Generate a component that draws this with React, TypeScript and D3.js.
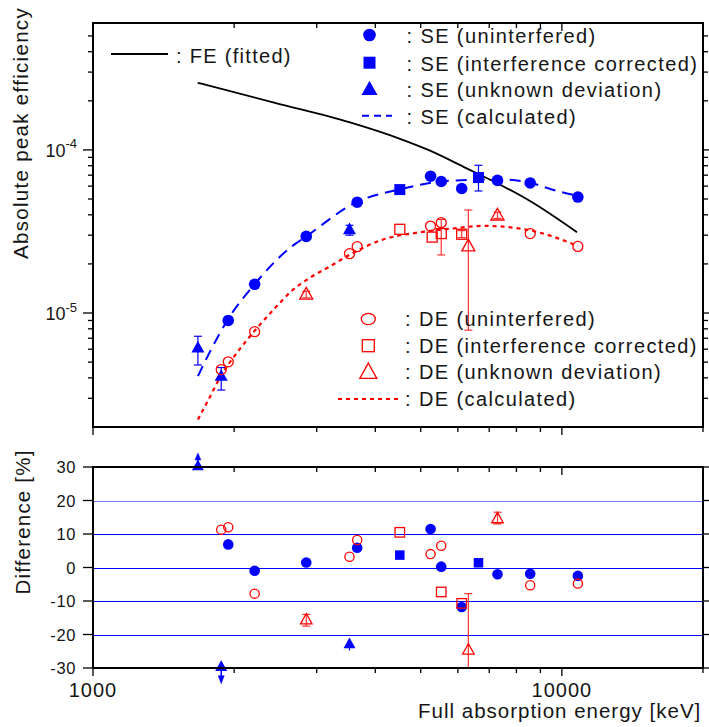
import React from 'react';
import * as d3 from 'd3';

// ---------- data ----------
const xMajorTicks = [1000, 10000];
const xMinorTicks = [2000, 3000, 4000, 5000, 6000, 7000, 8000, 9000, 20000];
const xTickLabels = ['1000', '10000'];

const yTopMajorTicks = [1e-5, 1e-4];
const yTopExponents = ['-5', '-4'];
const yTopMinorTicks = [3e-6, 4e-6, 5e-6, 6e-6, 7e-6, 8e-6, 9e-6, 2e-5, 3e-5, 4e-5, 5e-5, 6e-5, 7e-5, 8e-5, 9e-5, 2e-4, 3e-4, 4e-4, 5e-4];

const yBotTicks = [-30, -20, -10, 0, 10, 20, 30];
const yBotTickLabels = ['-30', '-20', '-10', '0', '10', '20', '30'];
const gridLines = [-20, -10, 0, 10, 20];

// FE (fitted)
const feFitted = [
  { e: 1672, v: 2.58e-4 }, { e: 2444, v: 1.945e-4 }, { e: 3533, v: 1.474e-4 },
  { e: 4516, v: 1.17e-4 }, { e: 5190, v: 1.0e-4 }, { e: 6266, v: 7.71e-5 },
  { e: 7262, v: 6.27e-5 }, { e: 8551, v: 4.86e-5 }, { e: 10770, v: 3.13e-5 },
];
// SE (calculated)
const seCalc = [
  { e: 1674, v: 4.1e-6 }, { e: 1764, v: 5.57e-6 }, { e: 1940, v: 9.14e-6 },
  { e: 2211, v: 1.5e-5 }, { e: 2636, v: 2.52e-5 }, { e: 2850, v: 2.95e-5 },
  { e: 3647, v: 4.78e-5 }, { e: 4527, v: 5.74e-5 }, { e: 5695, v: 6.45e-5 },
  { e: 7290, v: 6.6e-5 }, { e: 8592, v: 6.27e-5 }, { e: 9477, v: 5.74e-5 },
  { e: 10818, v: 5.22e-5 },
];
// DE (calculated)
const deCalc = [
  { e: 1674, v: 2.22e-6 }, { e: 1764, v: 2.95e-6 }, { e: 1882, v: 4.2e-6 },
  { e: 2027, v: 5.7e-6 }, { e: 2210, v: 7.75e-6 }, { e: 2428, v: 1.05e-5 },
  { e: 2679, v: 1.4e-5 }, { e: 2907, v: 1.65e-5 }, { e: 3210, v: 1.94e-5 },
  { e: 3541, v: 2.29e-5 }, { e: 4170, v: 2.83e-5 }, { e: 4920, v: 3.11e-5 },
  { e: 5800, v: 3.29e-5 }, { e: 6830, v: 3.42e-5 }, { e: 8328, v: 3.26e-5 },
  { e: 9477, v: 2.97e-5 }, { e: 10818, v: 2.57e-5 },
];

const seUninterfered = [
  { e: 1943, v: 9.0e-6 }, { e: 2212, v: 1.5e-5 }, { e: 2850, v: 2.95e-5 },
  { e: 3660, v: 4.78e-5 }, { e: 5248, v: 6.9e-5 }, { e: 5530, v: 6.4e-5 },
  { e: 6115, v: 5.8e-5 }, { e: 7290, v: 6.5e-5 }, { e: 8560, v: 6.27e-5 },
  { e: 10818, v: 5.14e-5 },
];
const seInterfCorrected = [
  { e: 4512, v: 5.71e-5 },
  { e: 6640, v: 6.77e-5, lo: 5.6e-5, hi: 8.05e-5 },
];
const seUnknownDev = [
  { e: 1674, v: 6.12e-6, lo: 4.8e-6, hi: 7.2e-6 },
  { e: 1877, v: 4.1e-6, lo: 3.37e-6, hi: 4.63e-6 },
  { e: 3524, v: 3.25e-5, lo: 3.0e-5, hi: 3.45e-5 },
];
const deUninterfered = [
  { e: 1877, v: 4.5e-6 }, { e: 1943, v: 5.02e-6 }, { e: 2212, v: 7.68e-6 },
  { e: 3524, v: 2.31e-5 }, { e: 3660, v: 2.55e-5 }, { e: 5248, v: 3.41e-5 },
  { e: 5530, v: 3.58e-5 }, { e: 8560, v: 3.07e-5 }, { e: 10818, v: 2.56e-5 },
];
const deInterfCorrected = [
  { e: 4512, v: 3.26e-5 }, { e: 5290, v: 2.92e-5 },
  { e: 5530, v: 3.07e-5, lo: 2.27e-5, hi: 3.75e-5 },
  { e: 6115, v: 3.04e-5, lo: 2.9e-5, hi: 3.2e-5 },
];
const deUnknownDev = [
  { e: 2850, v: 1.3e-5, lo: 1.24e-5, hi: 1.36e-5 },
  { e: 6318, v: 2.57e-5, lo: 7.85e-6, hi: 4.28e-5 },
  { e: 7290, v: 3.97e-5, lo: 3.8e-5, hi: 4.15e-5 },
];

// Differences [%]
const seUninterferedDiff = [
  { e: 1943, d: 6.9 }, { e: 2212, d: -0.95 }, { e: 2850, d: 1.5 }, { e: 3660, d: 5.9 },
  { e: 5248, d: 11.5 }, { e: 5530, d: 0.25 }, { e: 6115, d: -11.8 }, { e: 7290, d: -2.0 },
  { e: 8560, d: -1.9 }, { e: 10818, d: -2.5 },
];
const seInterfDiff = [{ e: 4512, d: 3.7 }, { e: 6640, d: 1.4 }];
const seUnknownDiff = [
  { e: 1674, d: 30.3, arrow: 'up' },
  { e: 1877, d: -29.6, arrow: 'down' },
  { e: 3524, d: -22.8, lo: -24.8, hi: -21.5 },
];
const deUninterferedDiff = [
  { e: 1877, d: 11.3 }, { e: 1943, d: 12.0 }, { e: 2212, d: -7.8 }, { e: 3524, d: 3.2 },
  { e: 3660, d: 8.2 }, { e: 5248, d: 4.0 }, { e: 5530, d: 6.5 }, { e: 8560, d: -5.3 },
  { e: 10818, d: -4.8 },
];
const deInterfDiff = [{ e: 4512, d: 10.5 }, { e: 5530, d: -7.3 }, { e: 6115, d: -10.7 }];
const deUnknownDiff = [
  { e: 2850, d: -15.6, lo: -17.5, hi: -14.0 },
  { e: 6318, d: -24.6, lo: -40, hi: -7.8 },
  { e: 7290, d: 14.6, lo: 13.0, hi: 16.5 },
];

const seLegend = [': SE (uninterfered)', ': SE (interference corrected)', ': SE (unknown deviation)', ': SE (calculated)'];
const deLegend = [': DE (uninterfered)', ': DE (interference corrected)', ': DE (unknown deviation)', ': DE (calculated)'];
const feLegend = ': FE (fitted)';

// ---------- layout ----------
const W = 709, H = 727;
const PX0 = 93, PX1 = 703;
const TY0 = 23, TY1 = 427;
const BY0 = 467, BY1 = 668;
const BLUE = '#0000ff';
const RED = '#ff0000';
const TXT = '#151515';
const FONT = "'Liberation Sans', Arial, Helvetica, sans-serif";

const x = d3.scaleLog().domain([1000, 20000]).range([PX0, PX1]);
const yT = d3.scaleLog().domain([2e-6, 6e-4]).range([TY1, TY0]);
const yB = d3.scaleLinear().domain([-30, 30]).range([BY1, BY0]);

type MType = 'cf' | 'co' | 'sf' | 'so' | 'tf' | 'to';

function Marker({ t, cx, cy, s, color }: { t: MType; cx: number; cy: number; s: number; color: string }) {
  const sw = 1.3;
  switch (t) {
    case 'cf': return <circle cx={cx} cy={cy} r={s} fill={color} />;
    case 'co': return <circle cx={cx} cy={cy} r={s} fill="none" stroke={color} strokeWidth={sw} />;
    case 'sf': return <rect x={cx - s / 2} y={cy - s / 2} width={s} height={s} fill={color} />;
    case 'so': return <rect x={cx - s / 2} y={cy - s / 2} width={s} height={s} fill="none" stroke={color} strokeWidth={sw} />;
    case 'tf': {
      const h = s * 0.9;
      return <polygon points={`${cx},${cy - h * 0.6} ${cx - s / 2},${cy + h * 0.4} ${cx + s / 2},${cy + h * 0.4}`} fill={color} />;
    }
    case 'to': {
      const h = s * 0.9;
      return <polygon points={`${cx},${cy - h * 0.6} ${cx - s / 2},${cy + h * 0.4} ${cx + s / 2},${cy + h * 0.4}`} fill="none" stroke={color} strokeWidth={sw} />;
    }
  }
  return null;
}

function ErrBar({ cx, y1, y2, color, capTop = true, capBottom = true }: any) {
  const c = 4;
  return (
    <g stroke={color} strokeWidth={1.2}>
      <line x1={cx} x2={cx} y1={y1} y2={y2} />
      {capTop && <line x1={cx - c} x2={cx + c} y1={y1} y2={y1} />}
      {capBottom && <line x1={cx - c} x2={cx + c} y1={y2} y2={y2} />}
    </g>
  );
}

export default function App() {
  const lineT = d3.line<any>().x((d) => x(d.e)).y((d) => yT(d.v)).curve(d3.curveMonotoneX);

  const topTicks: JSX.Element[] = [];
  yTopMajorTicks.forEach((v, i) => {
    const yy = yT(v);
    topTicks.push(<line key={'tl' + i} x1={PX0 - 10} x2={PX0} y1={yy} y2={yy} />);
    topTicks.push(<line key={'tr' + i} x1={PX1} x2={PX1 + 10} y1={yy} y2={yy} />);
  });
  yTopMinorTicks.forEach((v, i) => {
    const yy = yT(v);
    topTicks.push(<line key={'tml' + i} x1={PX0 - 5} x2={PX0} y1={yy} y2={yy} />);
    topTicks.push(<line key={'tmr' + i} x1={PX1} x2={PX1 + 5} y1={yy} y2={yy} />);
  });
  const xTicks: JSX.Element[] = [];
  xMajorTicks.forEach((v, i) => {
    const xx = x(v);
    xTicks.push(<line key={'xa' + i} x1={xx} x2={xx} y1={TY0} y2={TY0 + 8} />);
    xTicks.push(<line key={'xb' + i} x1={xx} x2={xx} y1={TY1} y2={TY1 + 8} />);
    xTicks.push(<line key={'xc' + i} x1={xx} x2={xx} y1={BY0} y2={BY0 + 8} />);
    xTicks.push(<line key={'xd' + i} x1={xx} x2={xx} y1={BY1} y2={BY1 + 8} />);
  });
  xMinorTicks.forEach((v, i) => {
    const xx = x(v);
    xTicks.push(<line key={'xma' + i} x1={xx} x2={xx} y1={TY0} y2={TY0 + 5} />);
    xTicks.push(<line key={'xmb' + i} x1={xx} x2={xx} y1={TY1} y2={TY1 + 5} />);
    xTicks.push(<line key={'xmc' + i} x1={xx} x2={xx} y1={BY0} y2={BY0 + 5} />);
    xTicks.push(<line key={'xmd' + i} x1={xx} x2={xx} y1={BY1} y2={BY1 + 5} />);
  });
  const botTicks: JSX.Element[] = [];
  yBotTicks.forEach((v, i) => {
    const yy = yB(v);
    botTicks.push(<line key={'bl' + i} x1={PX0 - 10} x2={PX0} y1={yy} y2={yy} />);
    botTicks.push(<line key={'br' + i} x1={PX1} x2={PX1 + 6} y1={yy} y2={yy} />);
  });

  const txt = { fontFamily: FONT, fill: TXT };

  return (
    <svg width={W} height={H} style={{ position: 'absolute', left: 0, top: 0, background: '#fff' }}>
      <defs>
        <clipPath id="clipTop"><rect x={PX0} y={TY0} width={PX1 - PX0} height={TY1 - TY0} /></clipPath>
        <clipPath id="clipBot"><rect x={PX0} y={BY0} width={PX1 - PX0} height={BY1 - BY0} /></clipPath>
      </defs>
      <rect x={0} y={0} width={W} height={H} fill="#fff" />

      {/* grid lines bottom */}
      {gridLines.map((g, i) => {
        const gy = Math.round(yB(g)) + 0.5;
        return <line key={'g' + i} x1={PX0} x2={PX1} y1={gy} y2={gy} stroke={g === 20 ? '#7373ff' : BLUE} strokeWidth={1.2} />;
      })}

      {/* ---------- top panel ---------- */}
      <g clipPath="url(#clipTop)">
        <path d={lineT(feFitted) || ''} fill="none" stroke="#000" strokeWidth={1.8} />
        <path d={lineT(seCalc) || ''} fill="none" stroke={BLUE} strokeWidth={2} strokeDasharray="11,7" />
        <path d={lineT(deCalc) || ''} fill="none" stroke={RED} strokeWidth={2.2} strokeDasharray="4,4" />
      </g>
      {seInterfCorrected.filter((d) => d.hi).map((d, i) => (
        <ErrBar key={'esi' + i} cx={x(d.e)} y1={yT(d.hi!)} y2={yT(d.lo!)} color={BLUE} />
      ))}
      {seUnknownDev.map((d, i) => (
        <ErrBar key={'esu' + i} cx={x(d.e)} y1={yT(d.hi)} y2={yT(d.lo)} color={BLUE} />
      ))}
      {seUninterfered.map((d, i) => <Marker key={'su' + i} t="cf" cx={x(d.e)} cy={yT(d.v)} s={5.8} color={BLUE} />)}
      {seInterfCorrected.map((d, i) => <Marker key={'si' + i} t="sf" cx={x(d.e)} cy={yT(d.v)} s={11} color={BLUE} />)}
      {seUnknownDev.map((d, i) => <Marker key={'sd' + i} t="tf" cx={x(d.e)} cy={yT(d.v)} s={13} color={BLUE} />)}

      {deInterfCorrected.filter((d) => d.hi).map((d, i) => (
        <ErrBar key={'edi' + i} cx={x(d.e)} y1={yT(d.hi!)} y2={yT(d.lo!)} color="#ff3333" />
      ))}
      {deUnknownDev.map((d, i) => (
        <ErrBar key={'edu' + i} cx={x(d.e)} y1={yT(d.hi)} y2={yT(d.lo)} color="#ff3333" />
      ))}
      {deUninterfered.map((d, i) => <Marker key={'du' + i} t="co" cx={x(d.e)} cy={yT(d.v)} s={5} color={RED} />)}
      {deInterfCorrected.map((d, i) => <Marker key={'di' + i} t="so" cx={x(d.e)} cy={yT(d.v)} s={10} color={RED} />)}
      {deUnknownDev.map((d, i) => <Marker key={'dd' + i} t="to" cx={x(d.e)} cy={yT(d.v)} s={13} color={RED} />)}

      {/* ---------- bottom panel ---------- */}
      <g clipPath="url(#clipBot)">
        {deUnknownDiff.map((d, i) => (
          <ErrBar key={'bedu' + i} cx={x(d.e)} y1={yB(d.hi)} y2={yB(d.lo)} color="#ff3333" capBottom={d.lo > -30} />
        ))}
        {seUnknownDiff.filter((d) => d.lo !== undefined).map((d, i) => (
          <ErrBar key={'besu' + i} cx={x(d.e)} y1={yB(d.hi!)} y2={yB(d.lo!)} color={BLUE} capTop={false} capBottom={false} />
        ))}
      </g>
      {seUninterferedDiff.map((d, i) => <Marker key={'bsu' + i} t="cf" cx={x(d.e)} cy={yB(d.d)} s={5.3} color={BLUE} />)}
      {seInterfDiff.map((d, i) => <Marker key={'bsi' + i} t="sf" cx={x(d.e)} cy={yB(d.d)} s={9.5} color={BLUE} />)}
      {seUnknownDiff.map((d, i) => {
        const cx = x(d.e), cy = yB(d.d);
        return (
          <g key={'bsd' + i}>
            {d.arrow === 'up' && (
              <g fill={BLUE} stroke={BLUE} strokeWidth={1.5}>
                <line x1={cx} x2={cx} y1={cy} y2={cy - 10} />
                <polygon points={`${cx},${cy - 13} ${cx - 3},${cy - 6} ${cx + 3},${cy - 6}`} strokeWidth={0.5} />
              </g>
            )}
            {d.arrow === 'down' && (
              <g fill={BLUE} stroke={BLUE} strokeWidth={1.5}>
                <line x1={cx} x2={cx} y1={cy} y2={cy + 14} />
                <polygon points={`${cx},${cy + 17} ${cx - 3},${cy + 9} ${cx + 3},${cy + 9}`} strokeWidth={0.5} />
              </g>
            )}
            <Marker t="tf" cx={cx} cy={cy} s={12} color={BLUE} />
          </g>
        );
      })}
      {deUninterferedDiff.map((d, i) => <Marker key={'bdu' + i} t="co" cx={x(d.e)} cy={yB(d.d)} s={4.6} color={RED} />)}
      {deInterfDiff.map((d, i) => <Marker key={'bdi' + i} t="so" cx={x(d.e)} cy={yB(d.d)} s={9.5} color={RED} />)}
      {deUnknownDiff.map((d, i) => <Marker key={'bdd' + i} t="to" cx={x(d.e)} cy={yB(d.d)} s={11.5} color={RED} />)}

      {/* ---------- axes ---------- */}
      <g stroke="#000" strokeWidth={1.3}>
        {topTicks}
        {xTicks}
        {botTicks}
      </g>
      <rect x={PX0} y={TY0} width={PX1 - PX0} height={TY1 - TY0} fill="none" stroke="#000" strokeWidth={2} />
      <rect x={PX0} y={BY0} width={PX1 - PX0} height={BY1 - BY0} fill="none" stroke="#000" strokeWidth={2} />

      {/* tick labels */}
      {yTopMajorTicks.map((v, i) => (
        <text key={'ytl' + i} x={77} y={yT(v) + 7} textAnchor="end" fontSize={18} {...txt}>
          10<tspan fontSize={13} dy={-8.5}>{yTopExponents[i]}</tspan>
        </text>
      ))}
      {yBotTicks.map((v, i) => (
        <text key={'ybl' + i} x={76} y={yB(v) + 6} textAnchor="end" fontSize={16.5} letterSpacing={0.6} {...txt}>
          {yBotTickLabels[i]}
        </text>
      ))}
      {xMajorTicks.map((v, i) => (
        <text key={'xl' + i} x={x(v)} y={697} textAnchor="middle" fontSize={20} letterSpacing={1} {...txt}>
          {xTickLabels[i]}
        </text>
      ))}

      {/* axis titles */}
      <text x={418} y={718} fontSize={20.5} letterSpacing={1} {...txt}>Full absorption energy [keV]</text>
      <text transform="translate(28,133) rotate(-90)" textAnchor="middle" fontSize={20.5} letterSpacing={1.3} {...txt}>
        Absolute peak efficiency
      </text>
      <text transform="translate(29.5,522) rotate(-90)" textAnchor="middle" fontSize={20.5} letterSpacing={1.2} {...txt}>
        Difference [%]
      </text>

      {/* legends */}
      <line x1={111} x2={168} y1={54} y2={54} stroke="#000" strokeWidth={2} />
      <text x={176} y={63} fontSize={20} letterSpacing={1.3} {...txt}>{feLegend}</text>

      {[35, 62.7, 89.3, 115.7].map((yy, i) => (
        <g key={'sel' + i}>
          {i === 0 && <Marker t="cf" cx={369.5} cy={yy} s={6.3} color={BLUE} />}
          {i === 1 && <Marker t="sf" cx={369.5} cy={yy} s={12} color={BLUE} />}
          {i === 2 && <Marker t="tf" cx={369.5} cy={yy} s={16} color={BLUE} />}
          {i === 3 && <line x1={362} x2={392} y1={yy} y2={yy} stroke={BLUE} strokeWidth={2} strokeDasharray="7,5" />}
          <text x={406.5} y={yy + 8} fontSize={20} letterSpacing={1.4} {...txt}>{seLegend[i]}</text>
        </g>
      ))}
      {[319, 345.7, 372.3, 399].map((yy, i) => (
        <g key={'del' + i}>
          {i === 0 && <ellipse cx={368.3} cy={yy} rx={7} ry={5.6} fill="none" stroke={RED} strokeWidth={1.3} />}
          {i === 1 && <Marker t="so" cx={368.3} cy={yy} s={12} color={RED} />}
          {i === 2 && <Marker t="to" cx={368.3} cy={yy} s={17} color={RED} />}
          {i === 3 && <line x1={338} x2={398} y1={yy} y2={yy} stroke={RED} strokeWidth={2.2} strokeDasharray="4,4" />}
          <text x={405} y={yy + 7} fontSize={20} letterSpacing={1.4} {...txt}>{deLegend[i]}</text>
        </g>
      ))}
    </svg>
  );
}
